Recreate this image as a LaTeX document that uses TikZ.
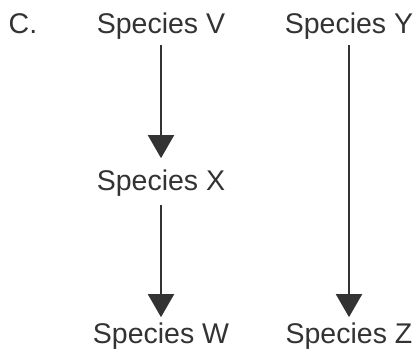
\documentclass[tikz,border=0pt]{standalone}
\usepackage{fontspec}
\setmainfont{Liberation Sans}
\usetikzlibrary{arrows, arrows.meta}

\begin{document}
\begin{tikzpicture}[x=1pt, y=-1pt,
    species/.style={anchor=base, inner sep=0pt, text=black!80, font=\fontsize{28.5}{30}\selectfont},
    link/.style={draw=black!80, line width=2pt, -{Triangle[length=23pt, width=26pt]}}]
    \useasboundingbox (0,0) rectangle (418,356);

    \node[species] (label) at (23,33) {C.};
    \node[species] (V) at (161,33) {Species V};
    \node[species] (X) at (161,190) {Species X};
    \node[species] (W) at (161,343) {Species W};
    \node[species] (Y) at (349,33) {Species Y};
    \node[species] (Z) at (349,343) {Species Z};

    \draw[link, shorten <=6pt, shorten >=11pt] (V) -- (X);
    \draw[link, shorten <=9pt, shorten >=5pt] (X) -- (W);
    \draw[link, shorten <=6pt, shorten >=5pt] (Y) -- (Z);
  \end{tikzpicture}
\end{document}
